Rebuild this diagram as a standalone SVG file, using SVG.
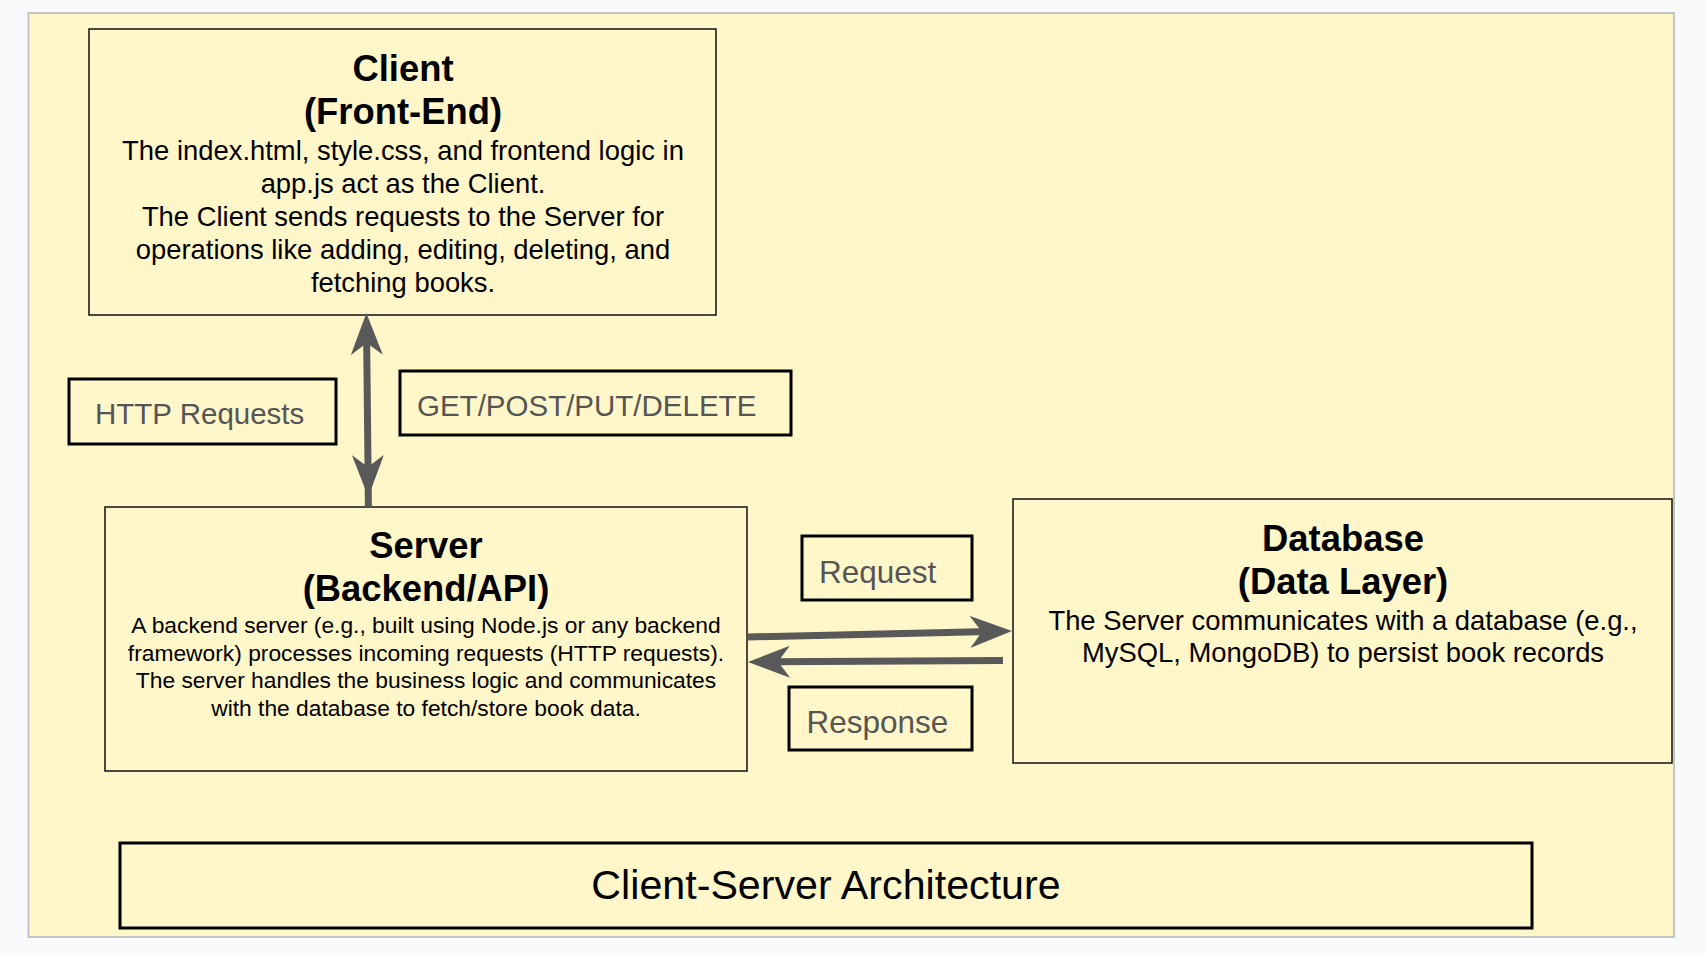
<svg xmlns="http://www.w3.org/2000/svg" width="1705" height="953" viewBox="0 0 1705 953">
  <style>
    text { font-family: "Liberation Sans", Arial, sans-serif; }
    .node { fill: #fff7c9; stroke: #111; stroke-width: 1.5; }
    .lbl { fill: #fff7c9; stroke: #000; stroke-width: 3; }
    .title { font-size: 36.4px; font-weight: bold; fill: #000; text-anchor: middle; }
    .body { font-size: 27.4px; fill: #000; text-anchor: middle; }
    .small { font-size: 22.8px; fill: #000; text-anchor: middle; }
    .ltxt { font-size: 29.5px; fill: #555; }
    .ltxt2 { font-size: 31.5px; fill: #555; }
    .conn { fill: none; stroke: #595959; stroke-width: 7; }
  </style>
  <defs>
    <marker id="head" viewBox="0 0 42 32" refX="20" refY="16" markerWidth="42" markerHeight="32" markerUnits="userSpaceOnUse" orient="auto-start-reverse">
      <path d="M0,0 L42,16 L0,32 L12,16 Z" fill="#595959"/>
    </marker>
  </defs>
  <rect x="0" y="0" width="1705" height="953" fill="#f8f9fb"/>
  <rect x="28.5" y="13" width="1645.5" height="924" fill="#fff7c9" stroke="#c4c4c4" stroke-width="2"/>

  <g id="client">
    <rect class="node" x="89" y="29" width="627" height="286"/>
    <text class="title" x="403" y="81">Client</text>
    <text class="title" x="403" y="124">(Front-End)</text>
    <text class="body" x="403" y="160">The index.html, style.css, and frontend logic in</text>
    <text class="body" x="403" y="193">app.js act as the Client.</text>
    <text class="body" x="403" y="226">The Client sends requests to the Server for</text>
    <text class="body" x="403" y="259">operations like adding, editing, deleting, and</text>
    <text class="body" x="403" y="292">fetching books.</text>
  </g>

  <g id="server">
    <rect class="node" x="105" y="507" width="642" height="264"/>
    <text class="title" x="426" y="558">Server</text>
    <text class="title" x="426" y="601">(Backend/API)</text>
    <text class="small" x="426" y="633">A backend server (e.g., built using Node.js or any backend</text>
    <text class="small" x="426" y="660.5">framework) processes incoming requests (HTTP requests).</text>
    <text class="small" x="426" y="688">The server handles the business logic and communicates</text>
    <text class="small" x="426" y="715.5">with the database to fetch/store book data.</text>
  </g>

  <g id="database">
    <rect class="node" x="1013" y="499" width="659" height="264"/>
    <text class="title" x="1343" y="551">Database</text>
    <text class="title" x="1343" y="594">(Data Layer)</text>
    <text class="body" x="1343" y="630">The Server communicates with a database (e.g.,</text>
    <text class="body" x="1343" y="662">MySQL, MongoDB) to persist book records</text>
  </g>

  <g id="label-http">
    <rect class="lbl" x="69" y="379" width="267" height="65"/>
    <text class="ltxt" x="95" y="424">HTTP Requests</text>
  </g>
  <g id="label-methods">
    <rect class="lbl" x="400" y="371" width="391" height="64"/>
    <text class="ltxt" x="417" y="416">GET/POST/PUT/DELETE</text>
  </g>
  <g id="label-request">
    <rect class="lbl" x="802" y="536" width="170" height="64"/>
    <text class="ltxt2" x="819" y="583">Request</text>
  </g>
  <g id="label-response">
    <rect class="lbl" x="789" y="687" width="183" height="63"/>
    <text class="ltxt2" x="806.5" y="733">Response</text>
  </g>

  <g id="title-box">
    <rect class="lbl" x="120" y="843" width="1412" height="85"/>
    <text x="826" y="899" font-size="41.2" fill="#000" text-anchor="middle">Client-Server Architecture</text>
  </g>

  <g id="connectors">
    <path class="conn" d="M366.6,335 L368.1,475" marker-start="url(#head)" marker-end="url(#head)"/>
    <path class="conn" d="M368,470 L368.4,507"/>
    <path class="conn" d="M747,637 L990,631.5" marker-end="url(#head)"/>
    <path class="conn" d="M1003,660.5 L770,661.8" marker-end="url(#head)"/>
  </g>
</svg>
